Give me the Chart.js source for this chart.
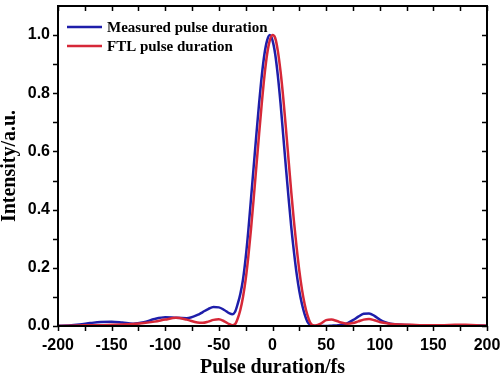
<!DOCTYPE html>
<html>
<head>
<meta charset="utf-8">
<script src="https://cdn.jsdelivr.net/npm/chart.js@4"></script>
<style>
  html, body { margin: 0; padding: 0; background: #fff; }
  #wrap { width: 500px; height: 387px; }
</style>
</head>
<body>
<div id="wrap"><canvas id="pulseChart" width="500" height="387"></canvas></div>
<script>
// time delay (fs)
const delays = [-200, -190, -180, -170, -160, -150, -140, -130, -120, -110, -100, -90, -80, -70, -65, -60, -55, -50, -45, -40,
    -37.5, -35, -32.5, -30, -27.5, -25, -22.5, -20, -17.5, -15, -12.5, -10, -7.5, -5, -2.5, 0, 2.5, 5, 7.5, 10,
    12.5, 15, 17.5, 20, 22.5, 25, 27.5, 30, 32.5, 35, 37.5, 40, 45, 50, 55, 60, 65, 70, 75, 80,
    85, 90, 95, 100, 105, 110, 120, 130, 140, 150, 160, 170, 180, 190, 200];

// measured pulse (blue)
const measured = [0.001, 0.002, 0.005, 0.010, 0.014, 0.015, 0.012, 0.008, 0.013, 0.024, 0.030, 0.028, 0.027, 0.038, 0.048, 0.058, 0.065, 0.064, 0.055, 0.043,
    0.040, 0.048, 0.075, 0.11, 0.16, 0.235, 0.33, 0.44, 0.55, 0.66, 0.765, 0.86, 0.935, 0.982, 1.0, 0.982, 0.935, 0.86, 0.765, 0.655,
    0.545, 0.44, 0.34, 0.255, 0.18, 0.12, 0.075, 0.04, 0.015, 0.004, 0.001, 0.0, 0.0, 0.0, 0.001, 0.002, 0.004, 0.010, 0.020, 0.032,
    0.042, 0.043, 0.035, 0.022, 0.013, 0.008, 0.004, 0.003, 0.002, 0.002, 0.002, 0.003, 0.003, 0.002, 0.001];

// transform-limited pulse (red)
const ftl = [0.0, 0.001, 0.002, 0.003, 0.003, 0.004, 0.005, 0.007, 0.010, 0.015, 0.022, 0.028, 0.022, 0.012, 0.011, 0.015, 0.021, 0.023, 0.016, 0.006,
    0.003, 0.006, 0.025, 0.055, 0.10, 0.16, 0.24, 0.335, 0.44, 0.55, 0.66, 0.765, 0.86, 0.935, 0.982, 1.0, 0.99, 0.945, 0.875, 0.785,
    0.68, 0.57, 0.46, 0.36, 0.27, 0.19, 0.125, 0.075, 0.038, 0.013, 0.003, 0.002, 0.008, 0.020, 0.022, 0.017, 0.011, 0.008, 0.010, 0.016,
    0.022, 0.024, 0.020, 0.014, 0.010, 0.007, 0.005, 0.004, 0.003, 0.003, 0.003, 0.004, 0.004, 0.003, 0.001];

const seriesNames = ['Measured pulse duration', 'FTL pulse duration'];
const seriesColors = ['rgb(30, 30, 170)', 'rgb(214, 40, 56)'];

const xTicks = [-200, -150, -100, -50, 0, 50, 100, 150, 200];
const xMinorTicks = [-175, -125, -75, -25, 25, 75, 125, 175];
const yTicks = [0.0, 0.2, 0.4, 0.6, 0.8, 1.0];
const yMinorTicks = [0.1, 0.3, 0.5, 0.7, 0.9];

const toPoints = (xs, ys) => xs.map((x, i) => ({ x: x, y: ys[i] }));

// no extra room for tick labels at the ends, the layout padding decides
function noEdgePadding(s) {
    s.paddingTop = 0; s.paddingBottom = 0;
    s.paddingLeft = 0; s.paddingRight = 0;
}

// frame, tick marks (left/bottom out, top/right in) and the legend
const framePlugin = {
    id: 'frame',
    afterDraw(chart) {
        const { ctx, chartArea: a, scales } = chart;
        const xs = scales.x, ys = scales.y;
        const len = 5;
        ctx.save();
        ctx.strokeStyle = '#000';
        ctx.lineWidth = 2;
        ctx.strokeRect(a.left, a.top, a.right - a.left, a.bottom - a.top);

        ctx.lineWidth = 1.5;
        ctx.beginPath();
        xTicks.concat(xMinorTicks).forEach(v => {
            const px = Math.round(xs.getPixelForValue(v)) + 0.5;
            ctx.moveTo(px, a.bottom); ctx.lineTo(px, a.bottom + len);
            ctx.moveTo(px, a.top); ctx.lineTo(px, a.top + len);
        });
        yTicks.concat(yMinorTicks).forEach(v => {
            const py = Math.round(ys.getPixelForValue(v)) + 0.5;
            ctx.moveTo(a.left, py); ctx.lineTo(a.left - len, py);
            ctx.moveTo(a.right, py); ctx.lineTo(a.right - len, py);
        });
        ctx.stroke();

        // legend inside the plot
        ctx.font = 'bold 15px "Liberation Serif", "Times New Roman", serif';
        ctx.textBaseline = 'middle';
        ctx.fillStyle = '#000';
        seriesNames.forEach((name, i) => {
            const y = a.top + 21 + i * 19;
            ctx.strokeStyle = seriesColors[i];
            ctx.lineWidth = 2.5;
            ctx.beginPath();
            ctx.moveTo(a.left + 9, y);
            ctx.lineTo(a.left + 44, y);
            ctx.stroke();
            ctx.fillText(name, a.left + 49, y + 1);
        });
        ctx.restore();
    }
};

const tickFont = { family: '"Liberation Sans", Arial, sans-serif', size: 16, weight: 'bold' };
const titleFont = { family: '"Liberation Serif", "Times New Roman", serif', size: 20, weight: 'bold', lineHeight: 1.2 };

const config = {
    type: 'line',
    data: {
        datasets: [
            {
                label: seriesNames[0],
                data: toPoints(delays, measured),
                borderColor: seriesColors[0],
                borderWidth: 2.5,
                pointRadius: 0,
                cubicInterpolationMode: 'monotone',
                fill: false,
                order: 1
            },
            {
                label: seriesNames[1],
                data: toPoints(delays, ftl),
                borderColor: seriesColors[1],
                borderWidth: 2.5,
                pointRadius: 0,
                cubicInterpolationMode: 'monotone',
                fill: false,
                order: 0
            }
        ]
    },
    options: {
        responsive: false,
        animation: false,
        layout: { padding: { top: 6, right: 13, left: 0, bottom: 0 } },
        plugins: {
            legend: { display: false },
            tooltip: { enabled: false }
        },
        scales: {
            x: {
                type: 'linear',
                min: -200,
                max: 200,
                afterBuildTicks: s => { s.ticks = xTicks.map(v => ({ value: v })); },
                afterFit: s => { s.height = 61; noEdgePadding(s); },
                grid: { display: false, drawTicks: false },
                border: { display: false },
                ticks: { color: '#000', font: tickFont, padding: 10, maxRotation: 0, autoSkip: false },
                title: { display: true, text: 'Pulse duration/fs', color: '#000', font: titleFont, padding: { top: 0, bottom: 7 } }
            },
            y: {
                type: 'linear',
                min: 0,
                max: 1.1,
                afterBuildTicks: s => { s.ticks = yTicks.map(v => ({ value: v })); },
                afterFit: s => { s.width = 58; noEdgePadding(s); },
                grid: { display: false, drawTicks: false },
                border: { display: false },
                ticks: { color: '#000', font: tickFont, padding: 8, autoSkip: false, callback: v => v.toFixed(1) },
                title: { display: true, text: 'Intensity/a.u.', color: '#000', font: { ...titleFont, lineHeight: 1.0 }, padding: { top: 0, bottom: 0 } }
            }
        }
    },
    plugins: [framePlugin]
};

const pulseChart = new Chart(document.getElementById('pulseChart'), config);
</script>
</body>
</html>
